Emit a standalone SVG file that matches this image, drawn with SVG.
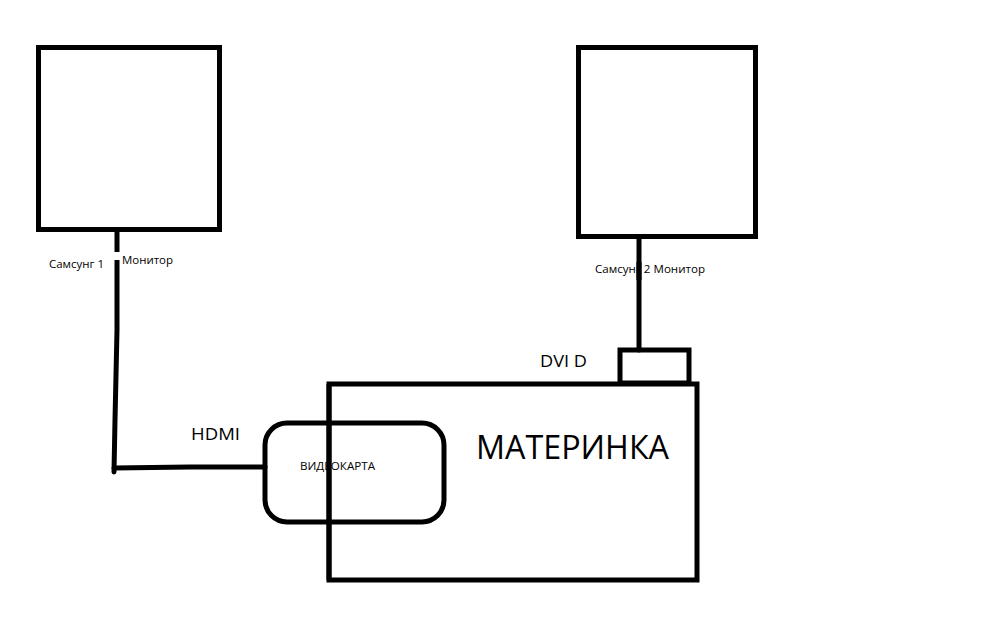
<svg xmlns="http://www.w3.org/2000/svg" width="999" height="638" viewBox="0 0 999 638">
<style>
.box{fill:none;stroke:#000;stroke-width:5}
.wire{fill:none;stroke:#000;stroke-width:5;stroke-linecap:round;stroke-linejoin:round}
text{font-family:"Open Sans","Noto Sans","Liberation Sans",sans-serif;fill:#000}
.s{font-size:11.5px}
.m{font-size:17px}
.l{font-size:32px}
</style>
<rect width="999" height="638" fill="#fff"/>
<g id="monitor1"><rect class="box" x="38.5" y="47.5" width="181" height="182"/></g>
<g id="monitor2"><rect class="box" x="578.5" y="47.5" width="177" height="189"/></g>
<g id="motherboard"><rect class="box" x="329" y="384" width="368" height="196"/>
<text class="l" x="476" y="459" textLength="193" lengthAdjust="spacingAndGlyphs">МАТЕРИНКА</text></g>
<g id="dvi"><rect class="box" x="620" y="350" width="69" height="33"/></g>
<g id="connectors">
<polyline class="wire" points="117,230 117,330 115,420 114,472"/>
<polyline class="wire" points="114,468 190,467 265,467"/>
<line class="wire" x1="639" y1="237" x2="639" y2="350"/>
</g>
<g id="videocard"><text class="s" x="300" y="470" textLength="75" lengthAdjust="spacingAndGlyphs">ВИДЕОКАРТА</text>
<rect class="box" x="265" y="423" width="179" height="99" rx="22"/>
<line class="box" x1="329" y1="384" x2="329" y2="580"/></g>
<g id="labels">
<rect x="112" y="252" width="10" height="8" fill="#fff"/>
<text class="s" x="49" y="268" textLength="55" lengthAdjust="spacingAndGlyphs">Самсунг 1</text>
<text class="s" x="122" y="264" textLength="51" lengthAdjust="spacingAndGlyphs">Монитор</text>
<text class="s" x="595" y="273" textLength="110" lengthAdjust="spacingAndGlyphs">Самсунг 2 Монитор</text>
<line class="box" x1="639" y1="262" x2="639" y2="280"/>
<text class="m" x="540" y="367" textLength="47" lengthAdjust="spacingAndGlyphs">DVI D</text>
<text class="m" x="191" y="440" textLength="49" lengthAdjust="spacingAndGlyphs">HDMI</text>
</g>
</svg>
